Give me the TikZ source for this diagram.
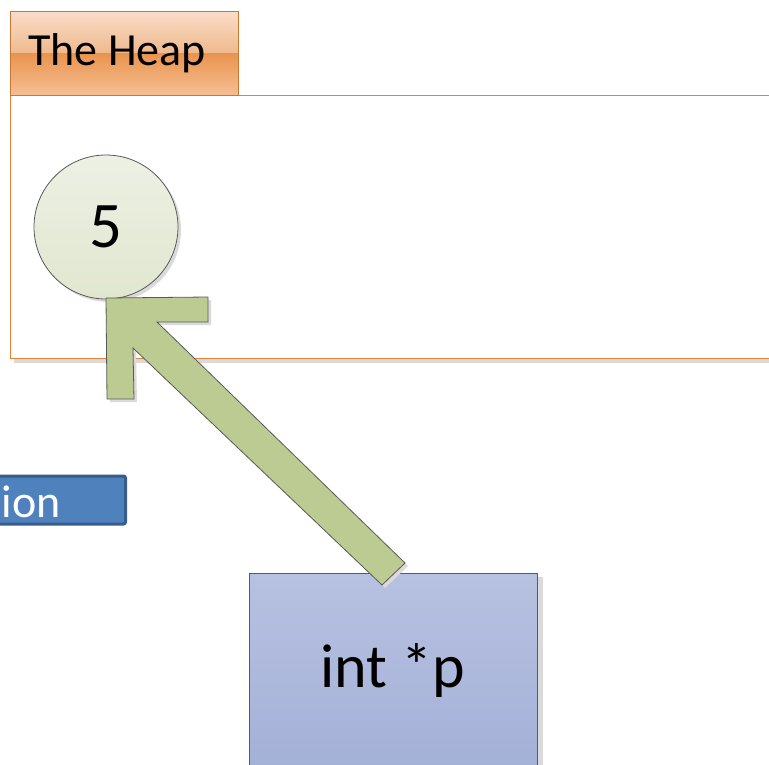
\documentclass[tikz,border=0pt]{standalone}
\usepackage{fontspec}
\setmainfont{Carlito}
\usetikzlibrary{calc}
\definecolor{heapline}{HTML}{E2843A}
\definecolor{tabA}{HTML}{FADDC8}
\definecolor{tabB}{HTML}{EFB98E}
\definecolor{tabC}{HTML}{E9944E}
\definecolor{tabD}{HTML}{F6BE92}
\definecolor{valA}{HTML}{EDF0E4}
\definecolor{valB}{HTML}{E0E7CF}
\definecolor{arrowfill}{HTML}{BCCB91}
\definecolor{ptrA}{HTML}{B7C1E1}
\definecolor{ptrB}{HTML}{A3B0D7}
\definecolor{fnfill}{HTML}{4F81BD}
\definecolor{fnline}{HTML}{385D8A}
\definecolor{shadowgray}{HTML}{DADADA}
\tikzset{
  outline/.style={draw=black!65, line width=0.8pt},
  shadowfill/.style={fill=shadowgray, draw=none},
}
\begin{document}
\begin{tikzpicture}[x=1pt,y=-1pt]
\useasboundingbox (0,0) rectangle (769,764);
\clip (0,0) rectangle (769,764);
% heap region
\fill[shadowgray] (14,358) rectangle (780,363);
\node[draw=heapline, line width=0.9pt, fill=white, minimum width=770pt, minimum height=263pt, anchor=north west, inner sep=0pt] (heap) at (10,95) {};
% heap tab
\shade[top color=tabA, bottom color=tabB] (10,11) rectangle (238,53);
\shade[top color=tabC, bottom color=tabD] (10,53) rectangle (238,95);
\node[draw=heapline!90!black, line width=1pt, minimum width=228pt, minimum height=84pt, anchor=north west, inner sep=0pt] (heaptab) at (10,11) {};
\node[anchor=base west, font=\fontsize{46}{46}\selectfont, inner sep=0pt] (heaplabel) at (28,65) {The Heap};
% value circle
\fill[shadowgray] (109,230) circle[radius=72pt];
\node[circle, outline, top color=valA, bottom color=valB, minimum size=144pt, inner sep=0pt, font=\fontsize{65}{65}\selectfont] (val) at (106,227) {5};
% function box (cut off at left)
\node[draw=fnline, line width=3pt, fill=fnfill, rounded corners=2pt, minimum width=160pt, minimum height=48pt, anchor=east, inner sep=0pt] (fn) at (127,500) {};
\node[anchor=base east, text=white, font=\fontsize{46}{46}\selectfont, inner sep=0pt] (fnlabel) at (61,517) {ion};
% pointer box
\fill[shadowgray] (537,577) rectangle (543,770);
\node[outline, top color=ptrA, bottom color=ptrB, minimum width=288pt, minimum height=200pt, anchor=north west, inner sep=0pt] (ptr) at (249,573) {};
\node[font=\fontsize{62}{62}\selectfont, inner sep=0pt] (ptrlabel) at (393,670) {int *p};
% block arrow from pointer to value
\coordinate (tip) at (106,298);
\coordinate (tail) at (393,574);
\fill[shadowgray] ($(tip)+(3,3)$) -- ++(102,-1) -- ++(0,25) -- ++(-51,0) -- ++(248,241) -- ++(-23,22) -- ++(-249,-237) -- ++(1,51) -- ++(-27,0) -- cycle;
\draw[outline, fill=arrowfill, line join=miter] (tip) -- ++(102,-1) -- ++(0,25) -- ++(-51,0) -- ++(248,241) -- ++(-23,22) -- ++(-249,-237) -- ++(1,51) -- ++(-27,0) -- cycle;
\end{tikzpicture}
\end{document}
